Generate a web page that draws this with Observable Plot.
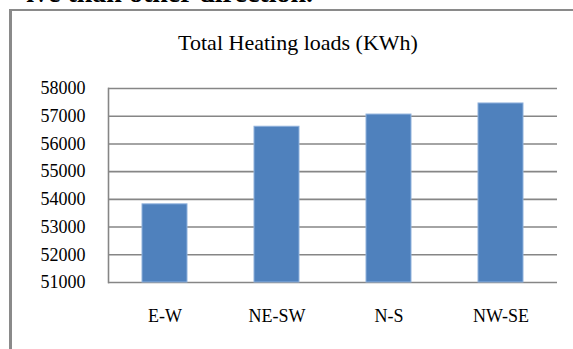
<!DOCTYPE html>
<html><head><meta charset="utf-8">
<script src="https://cdn.jsdelivr.net/npm/d3@7"></script>
<script src="https://cdn.jsdelivr.net/npm/@observablehq/plot@0.6"></script>
<style>
html,body{margin:0;padding:0;background:#fff;}
#wrap{position:relative;width:573px;height:349px;overflow:hidden;font-family:"Liberation Serif","Times New Roman",serif;background:#fff;}
#chart svg{position:absolute;left:0;top:0;}
#box{position:absolute;left:9px;top:9px;width:700px;height:500px;border-left:3px solid #8a8a8a;border-top:2px solid #8a8a8a;box-sizing:border-box;}
#para{position:absolute;left:0;top:-21px;width:313px;text-align:right;white-space:nowrap;font-size:28px;line-height:28px;font-weight:bold;color:#000;}
#title{position:absolute;left:0;width:596px;top:32px;text-align:center;font-size:22px;line-height:22px;color:#000;}
</style></head>
<body>
<div id="wrap">
  <div id="chart"></div>
  <div id="box"></div>
  <div id="para">ive than other direction.</div>
  <div id="title">Total Heating loads (KWh)</div>
</div>
<script>
const directions = ["E-W", "NE-SW", "N-S", "NW-SE"];
const heatingLoads = [53820, 56620, 57060, 57460];
const yTicks = [51000, 52000, 53000, 54000, 55000, 56000, 57000, 58000];
const baseline = 51000;

const data = directions.map((d, i) => ({dir: d, value: heatingLoads[i]}));

const chart = Plot.plot({
  width: 573,
  height: 349,
  marginLeft: 108,
  marginRight: 16,
  marginTop: 88,
  marginBottom: 67,
  style: {fontFamily: "'Liberation Serif','Times New Roman',serif", fontSize: "18px", background: "white", color: "#000"},
  x: {domain: directions, paddingInner: 0.6, paddingOuter: 0.3, label: null},
  y: {domain: [yTicks[0], yTicks[yTicks.length - 1]], label: null},
  marks: [
    Plot.gridY(yTicks, {stroke: "#868686", strokeOpacity: 1, strokeWidth: 1.6}),
    Plot.frame({anchor: "left", stroke: "#868686", strokeWidth: 1.6}),
    Plot.barY(data, {x: "dir", y1: baseline, y2: "value", fill: "#4f81bd", stroke: "#8fb1dc", strokeWidth: 1}),
    Plot.axisY({ticks: yTicks, tickSize: 0, tickPadding: 23, tickFormat: d => String(d), fontSize: 18, label: null}),
    Plot.axisX({tickSize: 0, tickPadding: 27, fontSize: 18, label: null})
  ]
});
document.getElementById("chart").appendChild(chart);
</script>
</body></html>
